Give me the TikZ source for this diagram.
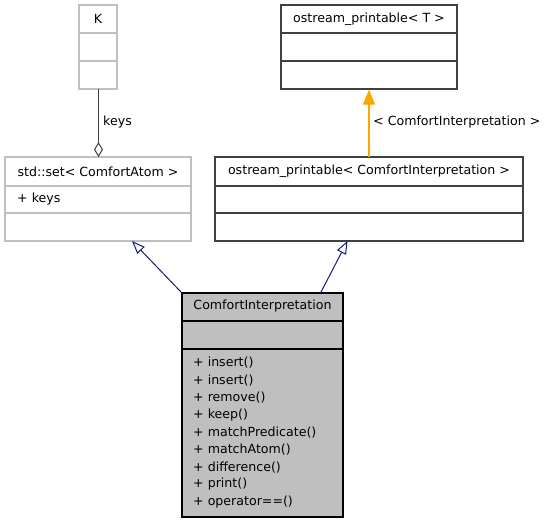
\documentclass[tikz,border=0pt]{standalone}
\usepackage{fontspec}
\setmainfont{DejaVu Sans}
\usetikzlibrary{arrows.meta}
\definecolor{edgeblue}{HTML}{191970}
\definecolor{orangec}{HTML}{FFA500}
\definecolor{grayborder}{HTML}{BFBFBF}
\definecolor{darkborder}{HTML}{404040}
\definecolor{cifill}{HTML}{BFBFBF}
\begin{document}
\begin{tikzpicture}[x=1pt,y=-1pt,
  font=\fontsize{12.6}{14}\selectfont,
  graybox/.style={draw=grayborder, line width=1.2pt, fill=white, inner sep=0pt},
  blackbox/.style={draw=darkborder, line width=1.2pt, fill=white, inner sep=0pt},
  cibox/.style={draw=black, line width=1.2pt, fill=cifill, inner sep=0pt},
  lbl/.style={inner sep=0pt, text=black},
  inherit/.style={draw=edgeblue, line width=1pt, -{Triangle[open, length=13pt, width=10pt, line width=1pt]}},
  templ/.style={draw=orangec, line width=1.1pt, -{Triangle[length=15pt, width=12pt]}},
  aggr/.style={draw=darkborder, line width=1pt, -{Diamond[open, length=15pt, width=9pt, line width=1pt]}}
]
\useasboundingbox (0,0) rectangle (548,523);
% K
\node[graybox, minimum width=38pt, minimum height=84pt] (K) at (98,47) {};
\draw[grayborder, line width=1.2pt] (79,33) -- (117,33) (79,61) -- (117,61);
\node[lbl] (Kt) at (98,19) {K};
% std::set
\node[graybox, minimum width=186pt, minimum height=84pt] (S) at (98,199) {};
\draw[grayborder, line width=1.2pt] (5,186) -- (191,186) (5,213) -- (191,213);
\node[lbl] (St) at (98,171.5) {std::set< ComfortAtom >};
\node[lbl, anchor=west] (Sk) at (17,199) {+ keys};
% ostream_printable<T>
\node[blackbox, minimum width=176pt, minimum height=84pt] (OT) at (369,47) {};
\draw[darkborder, line width=1.2pt] (281,33) -- (457,33) (281,61) -- (457,61);
\node[lbl] (OTt) at (369,19) {ostream\_printable< T >};
% ostream_printable<CI>
\node[blackbox, minimum width=308pt, minimum height=84pt] (OC) at (369,199) {};
\draw[darkborder, line width=1.2pt] (215,186) -- (523,186) (215,213) -- (523,213);
\node[lbl] (OCt) at (369,171.5) {ostream\_printable< ComfortInterpretation >};
% ComfortInterpretation
\node[cibox, minimum width=161pt, minimum height=224pt] (CI) at (262.5,405) {};
\draw[black, line width=1.2pt] (182,321) -- (343,321) (182,349) -- (343,349);
\node[lbl] (CIt) at (262.5,306.5) {ComfortInterpretation};
\foreach \m [count=\i from 0] in {insert(), insert(), remove(), keep(), matchPredicate(), matchAtom(), difference(), print(), operator==()} {
  \node[lbl, anchor=west] (m\i) at (193,{363+17.35*\i}) {+ \m};
}
% connectors
\coordinate (ciL) at (182,293);
\coordinate (ciR) at (320.5,293);
\coordinate (sTip) at (132,241);
\coordinate (ocTip) at (347.5,241);
\coordinate (ocTop) at (369,157);
\coordinate (kBot) at (98.5,89);
\coordinate (sTop) at (98.5,157);
\draw[inherit] (ciL) -- (sTip);
\draw[inherit] (ciR) -- (ocTip);
\draw[templ] (ocTop) -- (OT.south);
\draw[aggr] (kBot) -- (sTop);
\node[lbl, anchor=west] (keysl) at (103,122) {keys};
\node[lbl, anchor=west] (tl) at (373,122) {< ComfortInterpretation >};
\end{tikzpicture}
\end{document}
